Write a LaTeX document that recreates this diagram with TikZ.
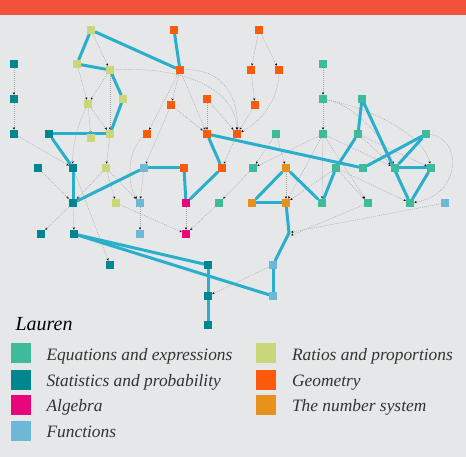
\documentclass[tikz,border=0pt]{standalone}
\usepackage{fontspec}
\setmainfont{Liberation Serif}
\newfontfamily\legfont{Liberation Serif}
\usetikzlibrary{arrows.meta}
\definecolor{bgc}{HTML}{E6E7E8}
\definecolor{topbar}{HTML}{F0533A}
\definecolor{ceq}{HTML}{3DBB9B}
\definecolor{cst}{HTML}{00868E}
\definecolor{cal}{HTML}{E8077B}
\definecolor{cfn}{HTML}{6DB8D7}
\definecolor{crt}{HTML}{C9D679}
\definecolor{cge}{HTML}{FA5A0A}
\definecolor{cns}{HTML}{E8921C}
\definecolor{clink}{HTML}{29AFCB}
\definecolor{ctext}{HTML}{333333}
\pgfdeclarelayer{bglayer}
\pgfdeclarelayer{edges}
\pgfsetlayers{bglayer,edges,main}
\tikzset{
  nd/.style={rectangle, minimum size=8.6pt, inner sep=0pt, outer sep=0pt, draw=none},
  eqn/.style={nd, fill=ceq},
  stn/.style={nd, fill=cst},
  aln/.style={nd, fill=cal},
  fnn/.style={nd, fill=cfn},
  rtn/.style={nd, fill=crt},
  gen/.style={nd, fill=cge},
  nsn/.style={nd, fill=cns},
  lk/.style={draw=clink, line width=3pt, line cap=round},
  dl/.style={draw=black!35, line width=0.45pt, dash pattern=on 1pt off 1pt, -{Stealth[length=2.4pt,width=2.2pt,black]}},
  legsq/.style={rectangle, minimum size=20pt, inner sep=0pt, draw=none},
  legtx/.style={anchor=base west, text=ctext, font=\legfont\itshape\fontsize{17.4}{20}\selectfont},
}
\begin{document}
\begin{tikzpicture}[x=1pt,y=-1pt]
\begin{pgfonlayer}{bglayer}
\fill[bgc] (0,0) rectangle (466,457);
\fill[topbar] (0,0) rectangle (466,15.5);
\end{pgfonlayer}
\useasboundingbox (0,0) rectangle (466,457);
% Ratios
\node[rtn] (r1) at (91,30) {};
\node[rtn] (r2) at (77,64) {};
\node[rtn] (r3) at (110,70) {};
\node[rtn] (r4) at (123,99) {};
\node[rtn] (r5) at (88,104) {};
\node[rtn] (r6) at (110,134) {};
\node[rtn] (r7) at (91,138) {};
\node[rtn] (r8) at (106,168) {};
\node[rtn] (r9) at (116,203) {};
% Statistics
\node[stn] (t1) at (14,64) {};
\node[stn] (t2) at (14,99) {};
\node[stn] (t3) at (14,134) {};
\node[stn] (t4) at (49,134) {};
\node[stn] (t5) at (38,168) {};
\node[stn] (t6) at (73,168) {};
\node[stn] (t7) at (73,203) {};
\node[stn] (t8) at (41,234) {};
\node[stn] (t9) at (74,234) {};
\node[stn] (t10) at (110,265) {};
\node[stn] (t11) at (208,265) {};
\node[stn] (t12) at (208,296) {};
\node[stn] (t13) at (208,325) {};
% Geometry
\node[gen] (g1) at (174,30) {};
\node[gen] (g2) at (259,30) {};
\node[gen] (g3) at (180,70) {};
\node[gen] (g4) at (251,70) {};
\node[gen] (g5) at (279,70) {};
\node[gen] (g6) at (171,105) {};
\node[gen] (g7) at (207,99) {};
\node[gen] (g8) at (255,105) {};
\node[gen] (g9) at (147,134) {};
\node[gen] (g10) at (207,134) {};
\node[gen] (g11) at (237,134) {};
\node[gen] (g12) at (184,168) {};
\node[gen] (g13) at (222,168) {};
% Equations
\node[eqn] (e1) at (323,64) {};
\node[eqn] (e2) at (323,99) {};
\node[eqn] (e3) at (362,99) {};
\node[eqn] (e4) at (276,134) {};
\node[eqn] (e5) at (323,134) {};
\node[eqn] (e6) at (358,134) {};
\node[eqn] (e7) at (426,134) {};
\node[eqn] (e8) at (253,168) {};
\node[eqn] (e9) at (336,168) {};
\node[eqn] (e10) at (363,168) {};
\node[eqn] (e11) at (395,168) {};
\node[eqn] (e12) at (431,168) {};
\node[eqn] (e13) at (219,203) {};
\node[eqn] (e14) at (322,203) {};
\node[eqn] (e15) at (368,203) {};
\node[eqn] (e16) at (410,203) {};
% Functions
\node[fnn] (f1) at (144,168) {};
\node[fnn] (f2) at (140,203) {};
\node[fnn] (f3) at (140,234) {};
\node[fnn] (f4) at (273,265) {};
\node[fnn] (f5) at (273,296) {};
\node[fnn] (f6) at (445,203) {};
% Algebra
\node[aln] (m1) at (186,203) {};
\node[aln] (m2) at (186,234) {};
% Number system
\node[nsn] (n1) at (286,168) {};
\node[nsn] (n2) at (252,203) {};
\node[nsn] (n3) at (286,203) {};
\coordinate (hid) at (289,233);

\begin{pgfonlayer}{edges}
% dashed dependencies
\draw[dl] (t1) -- (t2);
\draw[dl] (t2) -- (t3);
\draw[dl] (t3) -- (t6);
\draw[dl] (r1) -- (r3);
\draw[dl] (r2) -- (r5);
\draw[dl] (r3) -- (r5);
\draw[dl] (r3) -- (r6);
\draw[dl] (r3) .. controls (190,66) and (236,92) .. (g11);
\draw[dl] (r5) -- (r6);
\draw[dl] (r5) -- (r7);
\draw[dl] (r5) .. controls (77,125) and (72,150) .. (t6);
\draw[dl] (r6) -- (r8);
\draw[dl] (r8) -- (t7);
\draw[dl] (r8) -- (r9);
\draw[dl] (r8) -- (f2);
\draw[dl] (t5) -- (t7);
\draw[dl] (t6) -- (t7);
\draw[dl] (t6) -- (t10);
\draw[dl] (t7) -- (t8);
\draw[dl] (t7) -- (t9);
\draw[dl] (f1) -- (f2);
\draw[dl] (f2) -- (f3);
\draw[dl] (r9) -- (m2);
\draw[dl] (m1) -- (m2);
\draw[dl] (e13) -- (m2);
\draw[dl] (e8) -- (e13);
\draw[dl] (g9) .. controls (127,150) and (127,185) .. (f2);
\draw[dl] (g6) -- (f1);
\draw[dl] (g3) -- (g9);
\draw[dl] (g3) -- (g6);
\draw[dl] (g3) -- (g10);
\draw[dl] (g3) .. controls (218,68) and (239,92) .. (g11);
\draw[dl] (g6) -- (g10);
\draw[dl] (g7) -- (g10);
\draw[dl] (g7) -- (g11);
\draw[dl] (g2) -- (g4);
\draw[dl] (g2) -- (g5);
\draw[dl] (g4) -- (g8);
\draw[dl] (g8) -- (g11);
\draw[dl] (g5) .. controls (278,105) and (255,125) .. (g11);
\draw[dl] (g11) -- (g13);
\draw[dl] (e1) -- (e2);
\draw[dl] (e2) -- (e5);
\draw[dl] (e2) .. controls (355,105) and (385,140) .. (e11);
\draw[dl] (e2) .. controls (385,112) and (425,140) .. (e12);
\draw[dl] (e5) -- (e14);
\draw[dl] (e5) -- (n3);
\draw[dl] (e5) -- (e8);
\draw[dl] (e5) -- (e11);
\draw[dl] (e5) -- (e15);
\draw[dl] (e4) -- (e8);
\draw[dl] (e4) -- (n1);
\draw[dl] (e6) -- (e11);
\draw[dl] (e6) -- (e12);
\draw[dl] (e9) -- (e16);
\draw[dl] (e9) -- (e15);
\draw[dl] (e9) -- (n3);
\draw[dl] (n1) -- (n3);
\draw[dl] (e11) -- (e16);
\draw[dl] (e7) .. controls (462,138) and (462,195) .. (e16);
\draw[dl, shorten >=-1pt] (e15) -- ([xshift=3pt,yshift=-2pt]hid);
\draw[dl, shorten >=-1pt] (f6) -- ([xshift=3pt,yshift=1pt]hid);
\draw[dl] (f4) -- (t12);
% thick path links
\draw[lk] (r1) -- (r2);
\draw[lk] (r1) -- (g3);
\draw[lk] (g1) -- (g3);
\draw[lk] (r2) -- (r3);
\draw[lk] (r3) -- (r4);
\draw[lk] (r4) -- (r6);
\draw[lk] (t4) -- (r6);
\draw[lk] (t4) -- (t6);
\draw[lk] (t6) -- (t7);
\draw[lk] (t7) -- (f1);
\draw[lk] (f1) -- (g12);
\draw[lk] (g12) -- (m1);
\draw[lk] (m1) -- (g13);
\draw[lk] (g13) -- (g10);
\draw[lk] (g10) -- (e10);
\draw[lk] (e10) -- (e7);
\draw[lk] (e7) -- (e11);
\draw[lk] (e11) -- (e12);
\draw[lk] (e12) -- (e16);
\draw[lk] (e3) -- (e6);
\draw[lk] (e3) -- (e16);
\draw[lk] (e6) -- (e9);
\draw[lk] (e9) -- (e14);
\draw[lk] (n1) -- (e14);
\draw[lk] (n1) -- (n2);
\draw[lk] (n2) -- (n3);
\draw[lk] (n3) -- (hid);
\draw[lk] (hid) -- (f4);
\draw[lk] (f4) -- (f5);
\draw[lk] (t9) -- (t11);
\draw[lk] (t9) -- (f5);
\draw[lk] (t11) -- (t12);
\draw[lk] (t12) -- (t13);
\end{pgfonlayer}

% legend
\node[anchor=base west, text=black, font=\legfont\itshape\fontsize{20}{22}\selectfont] (title) at (12,330) {Lauren};
\node[legsq, fill=ceq] (l1) at (20.5,353.3) {};
\node[legsq, fill=cst] (l2) at (20.5,379.6) {};
\node[legsq, fill=cal] (l3) at (20.5,405.2) {};
\node[legsq, fill=cfn] (l4) at (20.5,431) {};
\node[legsq, fill=crt] (l5) at (265.5,353.3) {};
\node[legsq, fill=cge] (l6) at (265.5,379.6) {};
\node[legsq, fill=cns] (l7) at (265.5,405.2) {};
\node[legtx] (x1) at (43,360) {Equations and expressions};
\node[legtx] (x2) at (43,386) {Statistics and probability};
\node[legtx] (x3) at (43,411.5) {Algebra};
\node[legtx] (x4) at (43,437.3) {Functions};
\node[legtx] (x5) at (288.5,360) {Ratios and proportions};
\node[legtx] (x6) at (288.5,386) {Geometry};
\node[legtx] (x7) at (288.5,411.5) {The number system};
\end{tikzpicture}
\end{document}
